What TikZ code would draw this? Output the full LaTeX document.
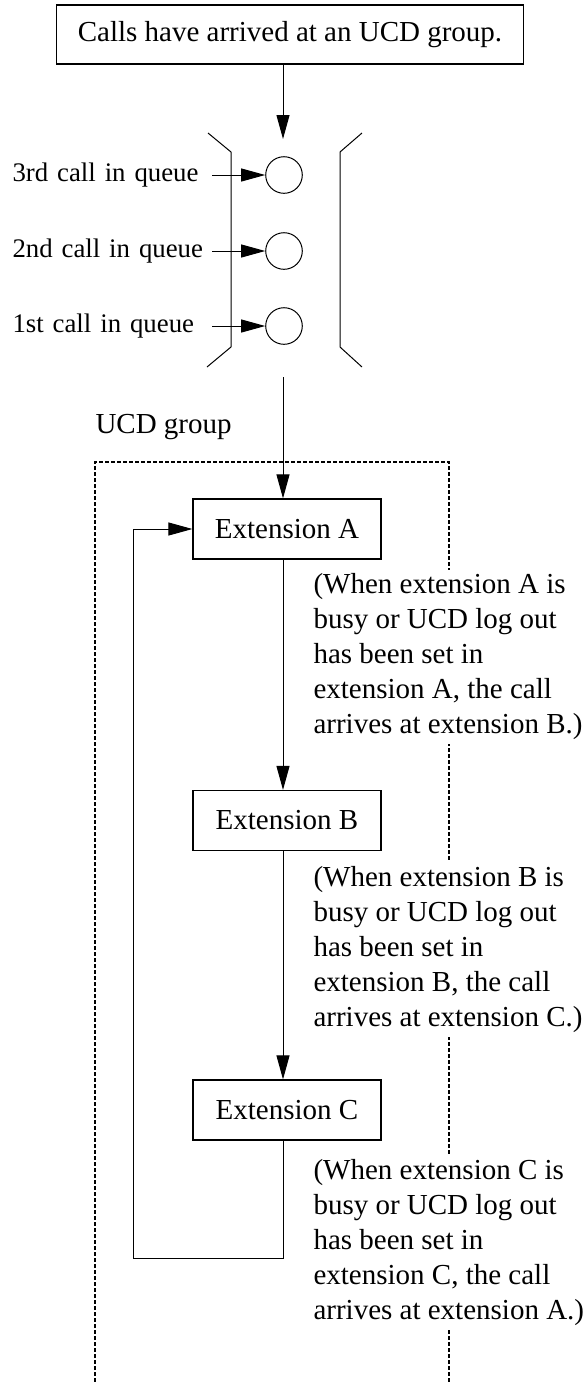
\documentclass[tikz,border=0pt]{standalone}
\usepackage{fontspec}
\setmainfont{Liberation Serif}
\usetikzlibrary{arrows.meta}

\begin{document}
\begin{tikzpicture}[x=0.5pt, y=-0.5pt, >={Triangle[length=12pt,width=6.5pt]}, line width=0.5pt,
  font=\fontsize{14.5pt}{17.5pt}\selectfont,
  extbox/.style={draw, line width=0.6pt, minimum width=94pt, minimum height=30pt},
  call/.style={draw, circle, inner sep=0pt, minimum size=18.3pt},
  qlabel/.style={anchor=west, text width=98.5pt, align=left, inner xsep=1pt, inner ysep=0pt, font=\fontsize{13.4pt}{16pt}\selectfont},
  note/.style={anchor=west, fill=white, align=left, inner xsep=0pt, inner ysep=2pt},
  group/.style={line width=0.65pt, dash pattern=on 2pt off 1pt}]
\useasboundingbox (0,0) rectangle (587,1382);
\node[draw, line width=0.6pt, minimum width=233.5pt, minimum height=29.5pt] (arrive) at (290,34.5) {Calls have arrived at an UCD group.};
\node[call] (q3) at (284,175) {};
\node[call] (q2) at (284,251) {};
\node[call] (q1) at (284,326) {};
\node[qlabel] (l3) at (10,175) {3rd call in queue};
\node[qlabel] (l2) at (10,251) {2nd call in queue};
\node[qlabel] (l1) at (10,326) {1st call in queue};
\draw (208,133) -- (231,152) -- (231,347) -- (207,367);
\draw (362,133) -- (340,152) -- (340,347) -- (362,367);
\coordinate (qin) at (283,139);
\coordinate (qout) at (283,377);
\coordinate (loop) at (133,1258);
\draw[group] (95,1382) -- (95,462) -- (449,462) -- (449,1382);
\node[anchor=west, inner sep=0pt] (grp) at (95,427) {UCD group};
\node[extbox] (extA) at (287,529) {Extension A};
\node[extbox] (extB) at (287,820.5) {Extension B};
\node[extbox] (extC) at (287,1110) {Extension C};
\node[note] (noteA) at (313,657) {(When extension A is\\busy or UCD log out\\has been set in\\extension A, the call\\arrives at extension B.)};
\node[note] (noteB) at (313,949.5) {(When extension B is\\busy or UCD log out\\has been set in\\extension B, the call\\arrives at extension C.)};
\node[note] (noteC) at (313,1243) {(When extension C is\\busy or UCD log out\\has been set in\\extension C, the call\\arrives at extension A.)};
\draw[->] (arrive.south -| qin) -- (qin);
\draw[->] (l3) -- (q3);
\draw[->] (l2) -- (q2);
\draw[->] (l1) -- (q1);
\draw[->] (qout) -- (extA.north -| qout);
\draw[->] (extA.south -| qout) -- (extB.north -| qout);
\draw[->] (extB.south -| qout) -- (extC.north -| qout);
\draw[->] (extC.south -| qout) |- (loop) |- (extA.west);
\end{tikzpicture}
\end{document}
